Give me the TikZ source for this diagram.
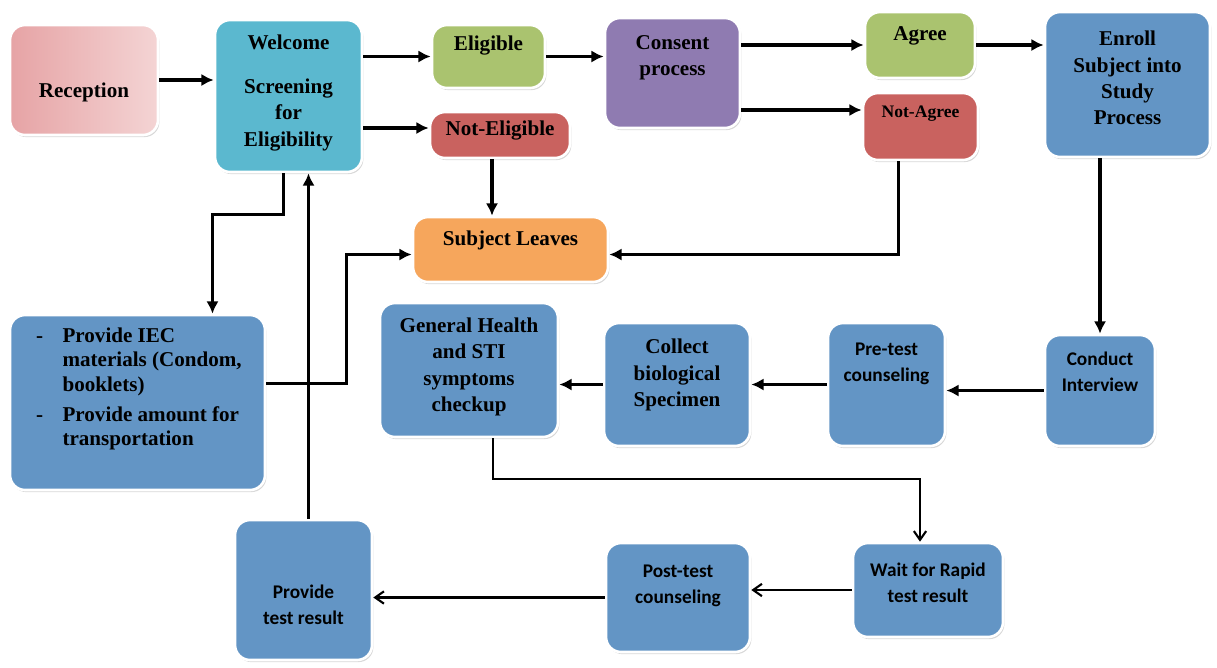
\documentclass[tikz,border=0pt]{standalone}
\usepackage{fontspec}
\setmainfont{Liberation Serif}
\newfontfamily\calfont{Carlito}
\usetikzlibrary{positioning,calc,arrows.meta,shadows}

\definecolor{recdark}{HTML}{E6A3A5}
\definecolor{reclight}{HTML}{F4D4D4}
\definecolor{welblue}{HTML}{5BB8CF}
\definecolor{okgreen}{HTML}{AAC36F}
\definecolor{nored}{HTML}{C9625F}
\definecolor{conpurple}{HTML}{8F7BB1}
\definecolor{stepblue}{HTML}{6395C5}
\definecolor{leaveorange}{HTML}{F6A65C}

\tikzset{
  box/.style={rounded corners=0.3cm, draw=white, line width=1.5pt,
    drop shadow={shadow xshift=0.8pt, shadow yshift=-1.2pt, opacity=0.3}},
  boxsize/.style 2 args={minimum width=#1*0.02cm, minimum height=#2*0.02cm, inner sep=0pt},
  lbl/.style={font=\bfseries\fontsize{12}{15}\selectfont, align=center},
  slbl/.style={font=\calfont\bfseries\fontsize{11}{15}\selectfont, align=center},
  arr/.style={-{Latex[length=7pt,width=7pt]}, line width=1.8pt},
  thinarr/.style={-{Straight Barb[length=5pt,width=7pt]}, line width=1.2pt},
  plain/.style={line width=1.8pt}
}

\begin{document}
\begin{tikzpicture}[x=0.02cm, y=-0.02cm]
\useasboundingbox (0,0) rectangle (1217,667);
\fill[white] (0,0) rectangle (1217,667);

% Top row
\node[box, boxsize={148}{110}, left color=recdark, right color=reclight] (rec) at (84,80) {};
\node[lbl] (t-rec) at (84,92) {Reception};

\node[box, boxsize={147}{152}, fill=welblue] (wel) at (288.5,96) {};
\node[lbl] (t-wel) at (288.5,93) {Welcome\\[10pt]Screening\\for\\Eligibility};

\node[box, boxsize={113}{63}, fill=okgreen] (elig) at (488.5,56.5) {};
\node[lbl] (t-elig) at (488.5,46) {Eligible};

\node[box, boxsize={140}{46}, fill=nored] (noteli) at (500,135) {};
\node[lbl] (t-noteli) at (500,131) {Not-Eligible};

\node[box, boxsize={135}{110}, fill=conpurple] (cons) at (672.5,73) {};
\node[lbl] (t-cons) at (672.5,57.5) {Consent\\process};

\node[box, boxsize={110}{66}, fill=okgreen] (agree) at (920,45) {};
\node[lbl] (t-agree) at (920,36) {Agree};

\node[box, boxsize={115}{67}, fill=nored] (notag) at (920.5,126.5) {};
\node[lbl, font=\bfseries\fontsize{10}{12}\selectfont] (t-notag) at (920.5,114) {Not-Agree};

\node[box, boxsize={165}{145}, fill=stepblue] (enr) at (1127.5,84.5) {};
\node[lbl] (t-enr) at (1127.5,78) {Enroll\\Subject into\\Study\\Process};

\node[box, boxsize={195}{65}, fill=leaveorange] (sub) at (510.5,249.5) {};
\node[lbl] (t-sub) at (510.5,240) {Subject Leaves};

% Middle row
\node[box, boxsize={255}{175}, fill=stepblue] (iec) at (137.5,402.5) {};
\node[lbl, anchor=west, font=\bfseries\fontsize{12}{14}\selectfont] (t-iec) at (30,389)
  {\begin{tabular}{@{}l@{\hspace{11pt}}l@{}}
   - & Provide IEC\\
     & materials (Condom,\\
     & booklets)\\[3pt]
   - & Provide amount for\\
     & transportation
   \end{tabular}};

\node[box, boxsize={178}{134}, fill=stepblue] (gen) at (469,370) {};
\node[lbl] (t-gen) at (469,367) {General Health\\and STI\\symptoms\\checkup};

\node[box, boxsize={146}{123}, fill=stepblue] (col) at (677,384.5) {};
\node[lbl] (t-col) at (677,375) {Collect\\biological\\Specimen};

\node[box, boxsize={117}{123}, fill=stepblue] (pre) at (886.5,384.5) {};
\node[slbl] (t-pre) at (886.5,364) {Pre-test\\counseling};

\node[box, boxsize={110}{111}, fill=stepblue] (cond) at (1100,390.5) {};
\node[slbl] (t-cond) at (1100,371.5) {Conduct\\Interview};

% Bottom row
\node[box, boxsize={150}{94}, fill=stepblue] (wait) at (928,590) {};
\node[slbl] (t-wait) at (928,583) {Wait for Rapid\\test result};

\node[box, boxsize={144}{109}, fill=stepblue] (post) at (678,597.5) {};
\node[slbl] (t-post) at (678,586) {Post-test\\counseling};

\node[box, boxsize={137}{140}, fill=stepblue] (prov) at (303.5,590) {};
\node[slbl] (t-prov) at (303.5,605) {Provide\\test result};

% Connectors
\draw[arr] (rec.east) -- (rec.east -| wel.west);
\draw[arr] (elig.west -| wel.east) -- (elig.west);
\draw[arr] ([yshift=0.14cm]noteli.west -| wel.east) -- ([yshift=0.14cm]noteli.west);
\draw[arr] (elig.east) -- (elig.east -| cons.west);
\draw[arr] (agree.west -| cons.east) -- (agree.west);
\draw[arr] ([yshift=-0.74cm]cons.east) -- ([yshift=-0.74cm]cons.east -| notag.west);
\draw[arr] (agree.east) -- (agree.east -| enr.west);
\draw[arr] ([xshift=-0.16cm]noteli.south) -- ([xshift=-0.16cm]noteli.south |- sub.north);
\draw[arr] ([xshift=-0.44cm]notag.south) |- ([yshift=-0.1cm]sub.east);
\draw[arr] ([yshift=0.38cm]iec.east) -- ++(80,0) |- ([yshift=-0.1cm]sub.west);
\draw[arr] ([xshift=-0.1cm]wel.south) -- ++(0,41) -| ([xshift=1.5cm]iec.north);
\draw[arr] ([xshift=0.1cm]prov.north) -- ([xshift=0.1cm]prov.north |- wel.south);
\draw[arr] (enr.south -| cond.north) -- (cond.north);
\draw[arr] (cond.west) -- (cond.west -| pre.east);
\draw[arr] (pre.west) -- (pre.west -| col.east);
\draw[arr] (col.west) -- (col.west -| gen.east);
\draw[thinarr] ([xshift=0.48cm]gen.south) -- ++(0,41) -| ([xshift=-0.16cm]wait.north);
\draw[thinarr] (wait.west) -- (wait.west -| post.east);
\draw[thinarr] (post.west) -- (post.west -| prov.east);
\end{tikzpicture}
\end{document}
